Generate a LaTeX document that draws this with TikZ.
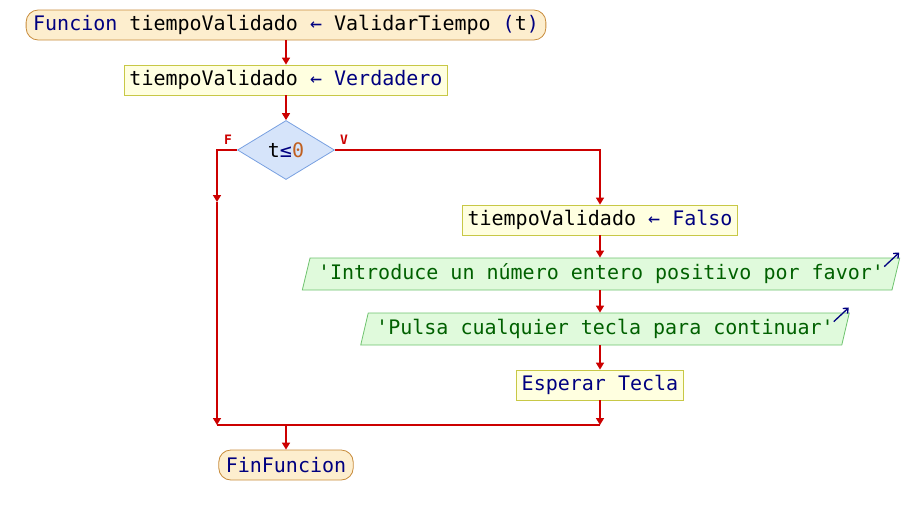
\documentclass[tikz,border=0pt]{standalone}
\usepackage{fontspec}
\setmonofont{DejaVu Sans Mono}
\usetikzlibrary{shapes.geometric,arrows.meta}
\tikzset{
  box/.style={
    font=\ttfamily\fontsize{20}{24}\selectfont,
    minimum height=30pt,
    inner xsep=5pt,
    inner ysep=0pt,
    line width=0.8pt
  },
  box-term/.style={box, rounded corners=12pt, inner xsep=7pt, fill=termfill, draw=termline},
  box-proc/.style={box, fill=procfill, draw=procline},
  box-dec/.style={box, diamond, inner sep=0pt, minimum width=97pt, minimum height=59pt, fill=decfill, draw=decline},
  box-io/.style={box, trapezium, trapezium left angle=69, trapezium right angle=111,
    trapezium stretches=true, minimum height=32pt, inner xsep=8pt, fill=iofill, draw=ioline},
  flow/.style={line width=1.6pt, draw=flowred, -{Triangle[width=8pt,length=7pt]}},
  flow-plain/.style={line width=1.6pt, draw=flowred},
  branch-label/.style={font=\ttfamily\bfseries\fontsize{13}{13}\selectfont, text=flowred},
  out-icon/.style={line width=1.3pt, draw=kwblue, -{Straight Barb[length=4pt,width=7pt]}}
}
\definecolor{termfill}{RGB}{253,238,206}
\definecolor{termline}{RGB}{200,140,60}
\definecolor{procfill}{RGB}{255,255,224}
\definecolor{procline}{RGB}{200,200,70}
\definecolor{decfill}{RGB}{214,228,250}
\definecolor{decline}{RGB}{120,160,225}
\definecolor{iofill}{RGB}{224,250,220}
\definecolor{ioline}{RGB}{110,195,110}
\definecolor{flowred}{RGB}{204,0,0}
\definecolor{kwblue}{RGB}{0,0,128}
\definecolor{strgreen}{RGB}{0,96,0}
\definecolor{numorange}{RGB}{192,96,32}

\begin{document}
\begin{tikzpicture}[x=1pt,y=-1pt]
  \useasboundingbox (0,0) rectangle (904,515);

  \node[box-term] (inicio) at (286,25)
    {{\color{kwblue}Funcion} tiempoValidado {\color{kwblue}←} ValidarTiempo {\color{kwblue}(}t{\color{kwblue})}};
  \node[box-proc] (verdad) at (286,80)
    {tiempoValidado {\color{kwblue}← Verdadero}};
  \node[box-dec] (cond) at (286,150)
    {t{\color{kwblue}≤}{\color{numorange}0}};
  \node[box-proc] (falso) at (600,220)
    {tiempoValidado {\color{kwblue}← Falso}};
  \node[box-io, text=strgreen] (msg1) at (601,274)
    {'Introduce un número entero positivo por favor'};
  \node[box-io, text=strgreen] (msg2) at (605,329)
    {'Pulsa cualquier tecla para continuar'};
  \node[box-proc, text=kwblue] (espera) at (600,385) {Esperar Tecla};
  \node[box-term, text=kwblue] (fin) at (286,465) {FinFuncion};

  % Branch labels
  \node[branch-label] (lblf) at (228,140) {F};
  \node[branch-label] (lblv) at (344,140) {V};

  \coordinate (fcorner) at (217,150);
  \coordinate (fmid) at (217,202);
  \coordinate (fend) at (217,425);
  \coordinate (vend) at (600,425);
  \coordinate (join) at (286,425);

  \draw[flow] (inicio) -- (verdad);
  \draw[flow] (verdad) -- (cond);
  \draw[flow] (cond.west) -- (fcorner) -- (fmid);
  \draw[flow] (fmid) -- (fend);
  \draw[flow] (cond.east) -| (falso.north);
  \draw[flow] (falso) -- (msg1.north -| falso);
  \draw[flow] (msg1.south -| falso) -- (msg2.north -| falso);
  \draw[flow] (msg2.south -| falso) -- (espera);
  \draw[flow] (espera) -- (vend);
  \draw[flow-plain] (fend) -- (vend);
  \draw[flow] (join) -- (fin);

  % Output icons
  \draw[out-icon] ([xshift=-16pt,yshift=-9pt]msg1.top right corner) -- ([xshift=-1pt,yshift=5pt]msg1.top right corner);
  \draw[out-icon] ([xshift=-16pt,yshift=-9pt]msg2.top right corner) -- ([xshift=-1pt,yshift=5pt]msg2.top right corner);
\end{tikzpicture}
\end{document}
